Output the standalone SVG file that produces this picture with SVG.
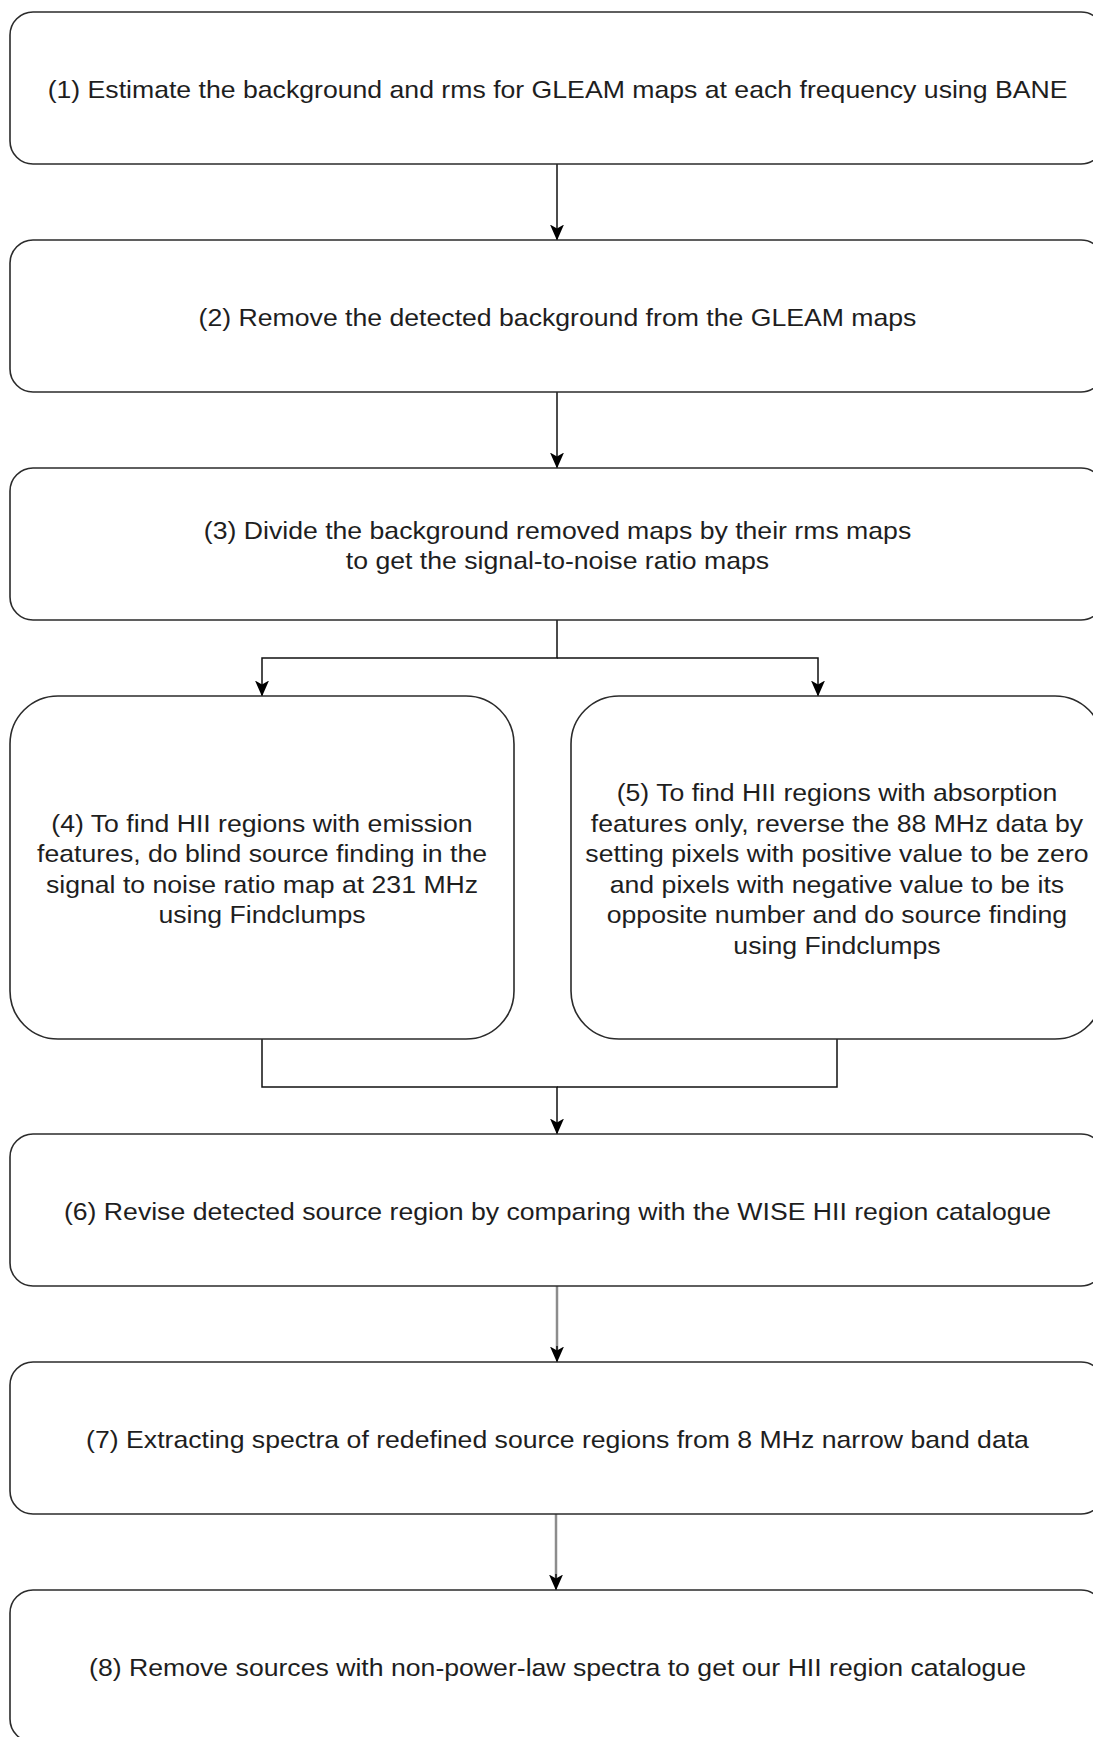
<svg xmlns="http://www.w3.org/2000/svg" width="1093" height="1737" viewBox="0 0 1093 1737">
<style>
.box{fill:#fff;stroke:#2b2b2b;stroke-width:1.6}
.lbl{font-family:"Liberation Sans",Arial,Helvetica,sans-serif;font-size:24px;fill:#1e1e1e;text-anchor:middle}
.edge{fill:none;stroke:#111;stroke-width:1.5}
.edge.gray{stroke:#8c8c8c;stroke-width:2.5}
</style>
<defs>
<marker id="arr" viewBox="0 0 16 14" refX="15.5" refY="7" markerWidth="16" markerHeight="14" markerUnits="userSpaceOnUse" orient="auto">
<path d="M0,0 L16,7 L0,14 L4,7 Z" fill="#000"/>
</marker>
</defs>
<rect width="1093" height="1737" fill="#fff"/>

<g id="connectors">
<path class="edge" d="M557,164 V240" marker-end="url(#arr)"/>
<path class="edge" d="M557,392 V468" marker-end="url(#arr)"/>
<path class="edge" d="M557,620 V658 H262 V696" marker-end="url(#arr)"/>
<path class="edge" d="M557,658 H818 V696" marker-end="url(#arr)"/>
<path class="edge" d="M262,1039 V1087 H557 V1134" marker-end="url(#arr)"/>
<path class="edge" d="M837,1039 V1087 H557"/>
<path class="edge gray" d="M557,1286 V1355"/>
<path class="edge gray" d="M556,1514 V1583"/>
<path class="edge" d="M557,1346 V1362" marker-end="url(#arr)"/>
<path class="edge" d="M556,1574 V1590" marker-end="url(#arr)"/>
</g>

<g id="node1">
<rect class="box" x="10" y="12" width="1094" height="152" rx="23" ry="23"/>
<text class="lbl" transform="matrix(1.11 0 0 1 -61.3 0)" x="557.5" y="98">(1) Estimate the background and rms for GLEAM maps at each frequency using BANE</text>
</g>

<g id="node2">
<rect class="box" x="10" y="240" width="1094" height="152" rx="23" ry="23"/>
<text class="lbl" transform="matrix(1.11 0 0 1 -61.3 0)" x="557.5" y="326">(2) Remove the detected background from the GLEAM maps</text>
</g>

<g id="node3">
<rect class="box" x="10" y="468" width="1094" height="152" rx="23" ry="23"/>
<text class="lbl" transform="matrix(1.11 0 0 1 -61.3 0)" x="557.5" y="539">(3) Divide the background removed maps by their rms maps</text>
<text class="lbl" transform="matrix(1.11 0 0 1 -61.3 0)" x="557.5" y="569">to get the signal-to-noise ratio maps</text>
</g>

<g id="node4">
<rect class="box" x="10" y="696" width="504" height="343" rx="48" ry="48"/>
<g transform="matrix(1.11 0 0 1 -28.8 0)">
<text class="lbl" x="262" y="832">(4) To find HII regions with emission</text>
<text class="lbl" x="262" y="862">features, do blind source finding in the</text>
<text class="lbl" x="262" y="893">signal to noise ratio map at 231 MHz</text>
<text class="lbl" x="262" y="923">using Findclumps</text>
</g>
</g>

<g id="node5">
<rect class="box" x="571" y="696" width="532" height="343" rx="48" ry="48"/>
<g transform="matrix(1.11 0 0 1 -92.1 0)">
<text class="lbl" x="837" y="801">(5) To find HII regions with absorption</text>
<text class="lbl" x="837" y="832">features only, reverse the 88 MHz data by</text>
<text class="lbl" x="837" y="862">setting pixels with positive value to be zero</text>
<text class="lbl" x="837" y="893">and pixels with negative value to be its</text>
<text class="lbl" x="837" y="923">opposite number and do source finding</text>
<text class="lbl" x="837" y="954">using Findclumps</text>
</g>
</g>

<g id="node6">
<rect class="box" x="10" y="1134" width="1094" height="152" rx="23" ry="23"/>
<text class="lbl" transform="matrix(1.11 0 0 1 -61.3 0)" x="557.5" y="1220">(6) Revise detected source region by comparing with the WISE HII region catalogue</text>
</g>

<g id="node7">
<rect class="box" x="10" y="1362" width="1094" height="152" rx="23" ry="23"/>
<text class="lbl" transform="matrix(1.11 0 0 1 -61.3 0)" x="557.5" y="1448">(7) Extracting spectra of redefined source regions from 8 MHz narrow band data</text>
</g>

<g id="node8">
<rect class="box" x="10" y="1590" width="1094" height="152" rx="23" ry="23"/>
<text class="lbl" transform="matrix(1.11 0 0 1 -61.3 0)" x="557.5" y="1676">(8) Remove sources with non-power-law spectra to get our HII region catalogue</text>
</g>
</svg>
